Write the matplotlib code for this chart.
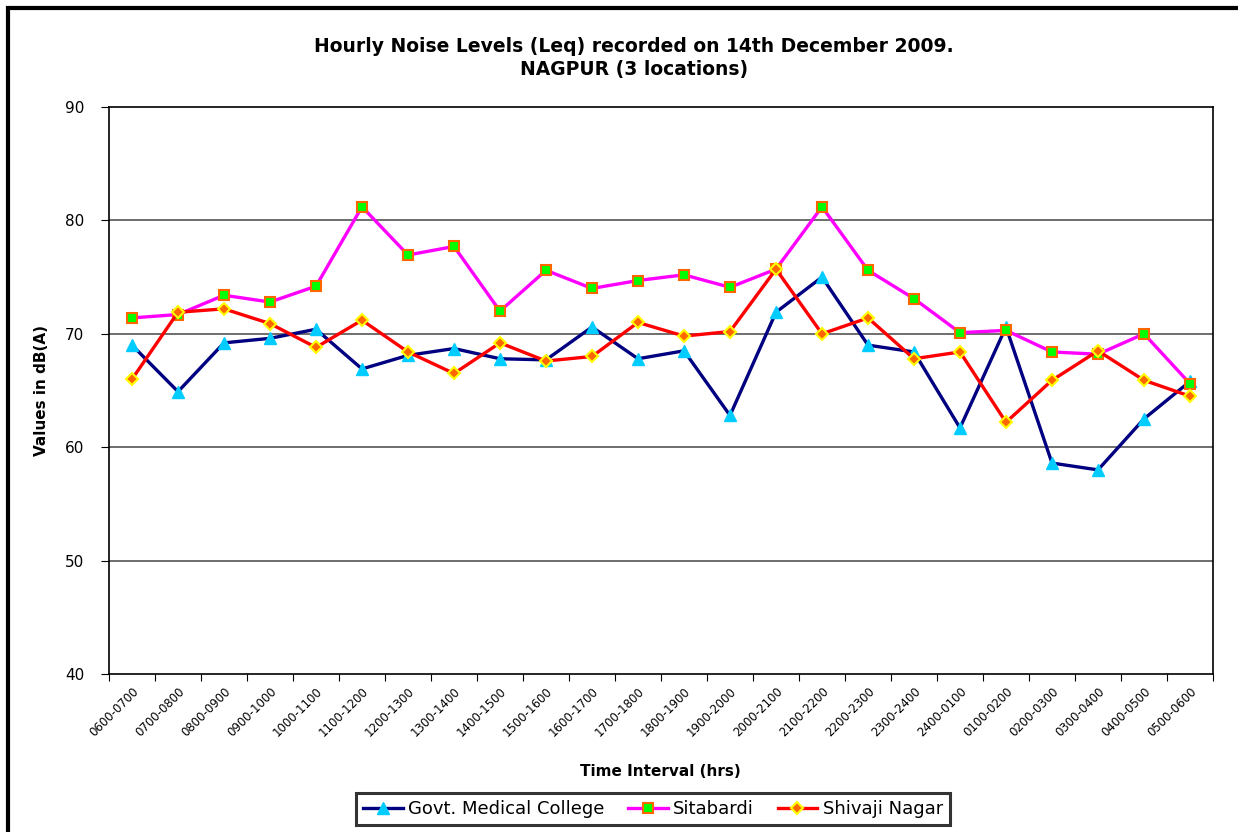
import matplotlib
matplotlib.use("Agg")
import matplotlib.pyplot as plt
from matplotlib.patches import Rectangle
import numpy as np

categories = ["0600-0700", "0700-0800", "0800-0900", "0900-1000", "1000-1100",
              "1100-1200", "1200-1300", "1300-1400", "1400-1500", "1500-1600",
              "1600-1700", "1700-1800", "1800-1900", "1900-2000", "2000-2100",
              "2100-2200", "2200-2300", "2300-2400", "2400-0100", "0100-0200",
              "0200-0300", "0300-0400", "0400-0500", "0500-0600"]

govt_medical = [69.0, 64.9, 69.2, 69.6, 70.4, 66.9, 68.1, 68.7, 67.8, 67.7,
                70.6, 67.8, 68.5, 62.8, 71.9, 75.0, 69.0, 68.4, 61.7, 70.6,
                58.6, 58.0, 62.5, 65.8]
sitabardi = [71.4, 71.7, 73.4, 72.8, 74.2, 81.2, 76.95, 77.7, 72.0, 75.6,
             74.0, 74.7, 75.2, 74.1, 75.7, 81.2, 75.6, 73.1, 70.1, 70.3,
             68.4, 68.2, 70.0, 65.6]
shivaji = [66.0, 71.9, 72.2, 70.9, 68.8, 71.2, 68.4, 66.5, 69.2, 67.6,
           68.0, 71.0, 69.8, 70.2, 75.7, 70.0, 71.4, 67.8, 68.4, 62.2,
           65.9, 68.5, 65.9, 64.5]

yticks = [40, 50, 60, 70, 80, 90]

W, H = 1238, 832
fig = plt.figure(figsize=(W / 100, H / 100), dpi=100)
ax = fig.add_axes([109 / W, 1 - 674 / H, (1213 - 109) / W, (674 - 107) / H])

x = np.arange(len(categories))
ax.plot(x, govt_medical, color="#000080", lw=2.4, marker="^", ms=8,
        mfc="#00CCFF", mec="#00CCFF", label="Govt. Medical College", zorder=3)
ax.plot(x, sitabardi, color="#FF00FF", lw=2.4, marker="s", ms=7,
        mfc="#00FF00", mec="#FF6600", mew=1.5, label="Sitabardi", zorder=3)
ax.plot(x, shivaji, color="#FF0000", lw=2.4, marker="D", ms=6,
        mfc="#FF6600", mec="#FFFF00", mew=1.5, label="Shivaji Nagar", zorder=3)

ax.set_xlim(-0.5, len(categories) - 0.5)
ax.set_ylim(40, 90)
ax.set_yticks(yticks)
ax.set_yticklabels([str(v) for v in yticks], fontsize=11, family="DejaVu Sans")
for v in yticks[1:-1]:
    ax.axhline(v, color="#555555", lw=1.2, zorder=1)

ax.set_xticks(np.arange(len(categories) + 1) - 0.5)
ax.set_xticklabels([])
ax.set_xticks(x, minor=True)
ax.set_xticklabels(categories, minor=True, rotation=45, ha="right", va="top",
                   rotation_mode="anchor", fontsize=8.5, family="DejaVu Sans")
ax.tick_params(axis="x", which="minor", length=0, pad=8)
ax.tick_params(axis="x", which="major", length=5, direction="out", color="black")
ax.tick_params(axis="y", length=6, direction="out", pad=12)
for s in ax.spines.values():
    s.set_color("black")
    s.set_linewidth(1.2)

ax.set_ylabel("Values in dB(A)", fontsize=11, fontweight="bold")
ax.yaxis.set_label_coords(-0.054, 0.5)
fig.text(660 / W, 1 - 772 / H, "Time Interval (hrs)", ha="center", va="center",
         fontsize=11, fontweight="bold")
fig.text(634 / W, 1 - 58 / H,
         "Hourly Noise Levels (Leq) recorded on 14th December 2009.\nNAGPUR (3 locations)",
         ha="center", va="center", fontsize=13.5, fontweight="bold", linespacing=1.3)

leg = fig.legend(loc="center", bbox_to_anchor=(653 / W, 1 - 809 / H), ncol=3,
                 frameon=True, fancybox=False, edgecolor="black",
                 prop={"family": "DejaVu Sans", "size": 13},
                 handlelength=2.2, columnspacing=1.3, handletextpad=0.3,
                 borderpad=0.4)
leg.get_frame().set_linewidth(2.2)

fig.patches.append(Rectangle((8 / W, -0.1), 1.2, (1 - 8 / H) + 0.1,
                             transform=fig.transFigure, fill=False,
                             edgecolor="black", lw=3, zorder=10))

fig.savefig("out.png", dpi=100)
